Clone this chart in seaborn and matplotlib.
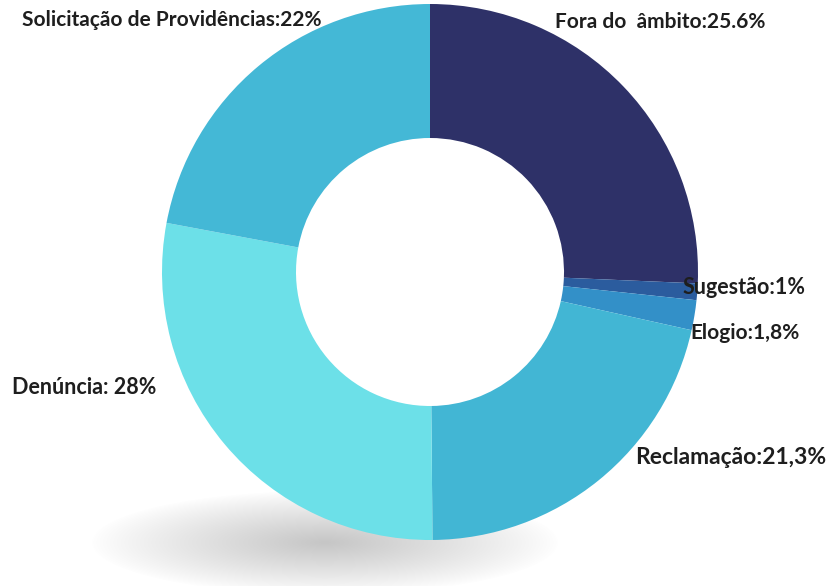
import numpy as np
import matplotlib
matplotlib.use('Agg')
import matplotlib.pyplot as plt
import seaborn as sns

# categories, clockwise from the top
categorias = ['Fora do  âmbito', 'Sugestão', 'Elogio', 'Reclamação', 'Denúncia',
              'Solicitação de Providências']
valores = [25.6, 1.0, 1.8, 21.3, 28.0, 22.0]
rotulos = ['Fora do  âmbito:25.6%', 'Sugestão:1%', 'Elogio:1,8%',
           'Reclamação:21,3%', 'Denúncia: 28%', 'Solicitação de Providências:22%']
cores = ['#2E3168', '#2B5C9E', '#3390C8', '#42B6D4', '#6CE0E8', '#44B8D6']

sns.set_theme(style='white')
plt.rcParams['font.family'] = ['Lato', 'DejaVu Sans']

W, H = 837, 586
fig = plt.figure(figsize=(W / 100, H / 100), dpi=100)
ax = fig.add_axes([0, 0, 1, 1])

# pixel geometry of the donut
cx, cy, r = 430, 272, 268
ax.set_xlim(-cx / r, (W - cx) / r)
ax.set_ylim(-(H - cy) / r, cy / r)
ax.axis('off')

# soft shadow under the ring
xs = np.linspace(-1.0, 1.0, 300)
ys = np.linspace(-1.0, 1.0, 120)
gx, gy = np.meshgrid(xs, ys)
dist = np.sqrt(gx ** 2 + gy ** 2)
alpha = np.clip(1 - dist, 0, 1) ** 0.9 * 0.45
shadow = np.zeros((len(ys), len(xs), 4))
shadow[..., :3] = 0.5
shadow[..., 3] = alpha
sx, sy, sw, sh = 325, 543, 235, 52
ax.imshow(shadow, extent=[(sx - sw - cx) / r, (sx + sw - cx) / r,
                          (cy - sy - sh) / r, (cy - sy + sh) / r],
          zorder=0, interpolation='bilinear', aspect='auto')

ax.pie(valores, colors=cores, startangle=90, counterclock=False, radius=1,
       wedgeprops=dict(width=0.5, edgecolor='none'))
ax.set_xlim(-cx / r, (W - cx) / r)
ax.set_ylim(-(H - cy) / r, cy / r)

# label positions in pixels (left edge, vertical centre) and sizes
pos = [(555, 22), (683, 287), (690, 333), (635, 457), (12, 387), (22, 20)]
tam = [15, 15.5, 15, 16.5, 15.5, 15]
for txt, (px, py), fs in zip(rotulos, pos, tam):
    fig.text(px / W, 1 - py / H, txt, ha='left', va='center', fontsize=fs,
             fontweight='bold', color='#1e1e1e')

fig.savefig('out.png', dpi=100, facecolor='white')
